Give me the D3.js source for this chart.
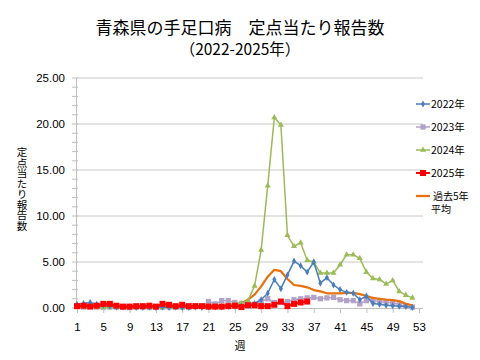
<!DOCTYPE html>
<html><head><meta charset="utf-8">
<script src="https://cdn.jsdelivr.net/npm/d3@7"></script>
<style>body{margin:0;background:#fff}svg{display:block}</style>
</head><body>
<svg id="c" width="480" height="360"></svg>
<script>
const weeks = d3.range(1, 54);
const xTickLabels = [1,5,9,13,17,21,25,29,33,37,41,45,49,53];
const yTicks = [0,5,10,15,20,25];
const seriesNames = ["2022年","2023年","2024年","2025年","過去5年平均"];
const v2022 = [0.4,0.5,0.6,0.4,0.3,0.2,0.1,0.1,0.1,0.05,0.05,0.1,0.05,0.1,0.05,0.1,0.05,0.05,0.1,0.05,0.1,0.1,0.1,0.2,0.2,0.2,0.3,0.5,0.9,1.6,3.1,2.1,3.6,5.1,4.6,3.9,5.0,2.7,3.3,2.5,2.0,1.7,1.6,0.9,1.3,0.5,0.4,0.3,0.25,0.2,0.15,0.05];
const v2023 = [0.2,0.1,0.2,0.1,0.1,0.1,0.1,0.1,0.05,0.1,0.1,0.05,0.1,0.1,0.1,0.1,0.1,0.1,0.2,0.2,0.7,0.45,0.8,0.8,0.6,0.5,0.4,0.4,0.7,1.0,0.6,0.6,0.7,0.9,1.0,1.1,1.15,1.0,1.1,1.15,0.9,0.8,0.8,0.45,0.8,0.8,0.7,0.6,0.6,0.35,0.25,0.1];
const v2024 = [0.1,0.1,0.1,0.1,0.05,0.1,0.1,0.1,0.05,0.05,0.1,0.05,0.1,0.05,0.1,0.05,0.05,0.05,0.1,0.1,0.1,0.2,0.2,0.3,0.4,0.5,0.8,2.4,6.3,13.3,20.7,19.9,7.9,6.7,7.1,5.2,5.0,3.8,3.8,3.8,4.7,5.8,5.8,5.4,3.9,3.2,3.1,2.6,3.0,1.8,1.4,1.1];
const v2025 = [0.2,0.25,0.15,0.25,0.45,0.45,0.25,0.15,0.15,0.2,0.2,0.25,0.15,0.45,0.35,0.2,0.35,0.2,0.2,0.2,0.15,0.15,0.15,0.2,0.25,0.1,0.3,0.3,0.2,0.2,0.35,0.7,0.2,0.45,0.6,0.7];
const vAvg = [0.25,0.3,0.3,0.3,0.3,0.3,0.25,0.25,0.2,0.2,0.2,0.2,0.2,0.2,0.2,0.2,0.2,0.2,0.2,0.2,0.2,0.2,0.25,0.25,0.3,0.5,0.9,1.45,2.35,3.4,4.15,4.0,3.15,2.5,2.4,2.25,1.95,1.8,1.6,1.6,1.6,1.65,1.65,1.5,1.3,1.1,1.0,0.9,0.85,0.75,0.45,0.3];

const svg = d3.select("#c");
const jp = "'Noto Sans CJK JP', sans-serif";
const num = "'Liberation Sans', 'DejaVu Sans', sans-serif";
const L = 76, R = 423, T = 78, B = 308;
const x = d3.scaleLinear().domain([1, 53]).range([77, 419]);
const y = d3.scaleLinear().domain([0, 25]).range([B, T]);

// title
svg.append("text").attr("x", 240).attr("y", 34).attr("text-anchor", "middle")
  .attr("font-family", jp).attr("font-size", 17).attr("fill", "#000")
  .text("青森県の手足口病　定点当たり報告数");
svg.append("text").attr("x", 240).attr("y", 55).attr("text-anchor", "middle")
  .attr("font-family", jp).attr("font-size", 15.5).attr("fill", "#000")
  .text("（2022-2025年）");

// gridlines
svg.append("g").selectAll("line").data(yTicks.filter(d => d > 0)).join("line")
  .attr("x1", L).attr("x2", R).attr("y1", d => y(d)).attr("y2", d => y(d))
  .attr("stroke", "#c8c8c8").attr("stroke-width", 1);

// y axis
const yAxis = d3.axisLeft(y).tickValues(yTicks).tickFormat(d3.format(".2f")).tickSize(0).tickPadding(11);
const gy = svg.append("g").attr("transform", `translate(${L},0)`).call(yAxis);
gy.select(".domain").attr("stroke", "#bfbfbf");
gy.selectAll("text").attr("font-family", num).attr("font-size", 11.5).attr("fill", "#000");
svg.append("g").selectAll("line").data(d3.range(0, 26)).join("line")
  .attr("x1", L - 4).attr("x2", L + 2).attr("y1", d => y(d)).attr("y2", d => y(d))
  .attr("stroke", "#bfbfbf");

// x axis
const xAxis = d3.axisBottom(x).tickValues(xTickLabels).tickFormat(d3.format("d")).tickSize(5).tickPadding(10);
const gx = svg.append("g").attr("transform", `translate(0,${B})`).call(xAxis);
gx.select(".domain").attr("d", `M${L},0.5H${R}`).attr("stroke", "#bfbfbf");
gx.selectAll("line").attr("stroke", "#bfbfbf");
gx.selectAll("text").attr("font-family", num).attr("font-size", 11.5).attr("fill", "#000");

// axis titles
svg.append("text").attr("x", 240).attr("y", 350).attr("text-anchor", "middle")
  .attr("font-family", jp).attr("font-size", 11).text("週");
svg.append("text").attr("transform", "translate(22,189)")
  .attr("text-anchor", "middle").attr("font-family", jp).attr("font-size", 10.5)
  .style("writing-mode", "vertical-rl").style("text-orientation", "upright")
  .text("定点当たり報告数");

const line = d3.line().x((d, i) => x(i + 1)).y(d => y(d));
const sym = (type, size) => d3.symbol().type(type).size(size);

function drawSeries(vals, color, width, mType, mSize) {
  const g = svg.append("g");
  g.append("path").datum(vals).attr("d", line).attr("fill", "none")
    .attr("stroke", color).attr("stroke-width", width).attr("stroke-linejoin", "round");
  if (mType) {
    g.selectAll("path.m").data(vals).join("path").attr("class", "m")
      .attr("transform", (d, i) => `translate(${x(i + 1)},${y(d)})`)
      .attr("d", sym(mType, mSize)).attr("fill", color);
  }
}
const colors = ["#4A7EBB", "#B3A2C7", "#9BBB59", "#FF0000", "#E8700F"];
drawSeries(v2023, colors[1], 1.5, d3.symbolSquare, 28);
drawSeries(vAvg, colors[4], 2.25, null, 0);
drawSeries(v2024, colors[2], 1.5, d3.symbolTriangle, 16);
drawSeries(v2022, colors[0], 1.5, d3.symbolDiamond, 14);
drawSeries(v2025, colors[3], 2, d3.symbolSquare, 36);

// legend
const legY = [104, 127, 150, 173, 196];
const legMark = [[d3.symbolDiamond,14,1.5],[d3.symbolSquare,28,1.5],[d3.symbolTriangle,16,1.5],[d3.symbolSquare,36,2],[null,0,2.25]];
const lg = svg.append("g");
seriesNames.forEach((n, i) => {
  lg.append("line").attr("x1", 416).attr("x2", 430).attr("y1", legY[i]).attr("y2", legY[i])
    .attr("stroke", colors[i]).attr("stroke-width", legMark[i][2]);
  if (legMark[i][0]) lg.append("path").attr("transform", `translate(423,${legY[i]})`)
    .attr("d", sym(legMark[i][0], legMark[i][1])).attr("fill", colors[i]);
  if (i < 4) {
    lg.append("text").attr("x", 431).attr("y", legY[i] + 4).attr("font-family", jp)
      .attr("font-size", 10.5).text(n);
  } else {
    lg.append("text").attr("x", 433).attr("y", legY[i] + 3.5).attr("font-family", jp)
      .attr("font-size", 10).text(n.slice(0, 4));
    lg.append("text").attr("x", 431).attr("y", legY[i] + 17).attr("font-family", jp)
      .attr("font-size", 10).text(n.slice(4));
  }
});
</script>
</body></html>
